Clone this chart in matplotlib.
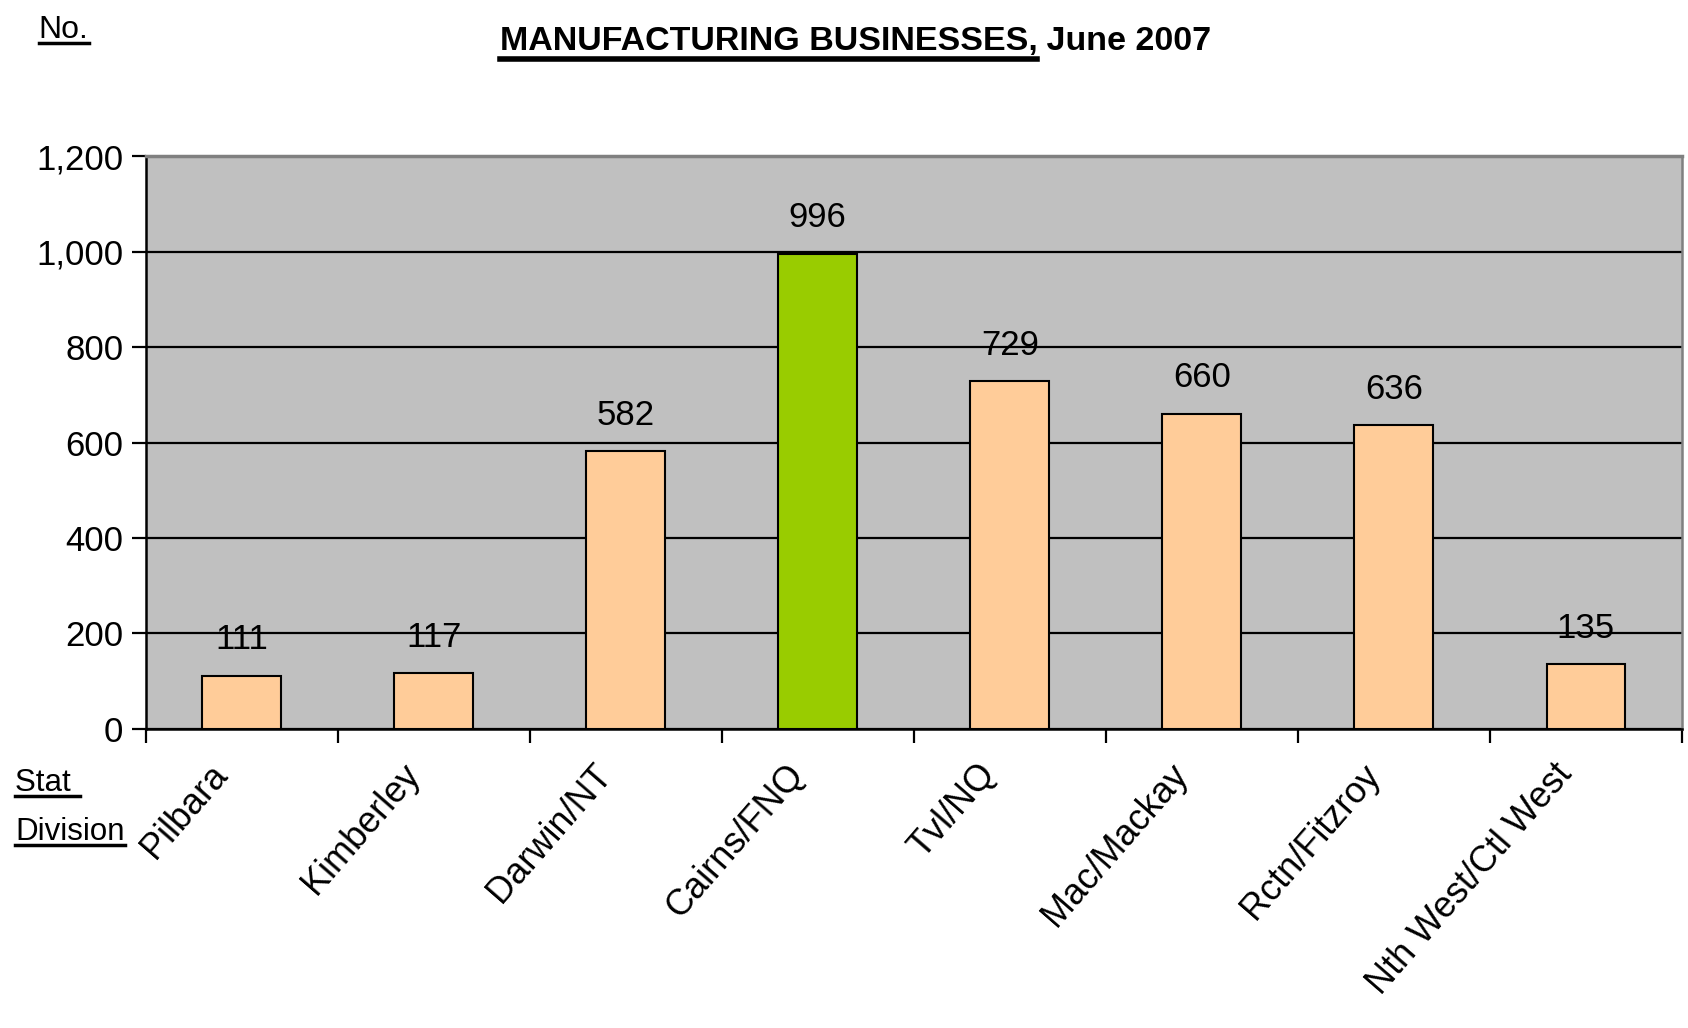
import numpy as np
import matplotlib
matplotlib.use("Agg")
import matplotlib.pyplot as plt
import matplotlib.transforms as mtransforms
from matplotlib.ticker import FuncFormatter

# chart data
divisions = ["Pilbara", "Kimberley", "Darwin/NT", "Cairns/FNQ", "Tvl/NQ",
             "Mac/Mackay", "Rctn/Fitzroy", "Nth West/Ctl West"]
businesses = [111, 117, 582, 996, 729, 660, 636, 135]
highlight = "Cairns/FNQ"
y_ticks = [0, 200, 400, 600, 800, 1000, 1200]

font = ["Liberation Sans", "DejaVu Sans"]
plt.rcParams["font.family"] = font

fig = plt.figure(figsize=(16.88, 10.28), dpi=100)
ax = fig.add_axes([0.0862, 0.291, 0.9102, 0.557])

x = np.arange(len(divisions))
colors = ["#99CC00" if d == highlight else "#FFCC99" for d in divisions]
ax.set_facecolor("#C0C0C0")
ax.bar(x, businesses, width=0.41, color=colors, edgecolor="black", linewidth=1.5, zorder=3)

for xi, v in zip(x, businesses):
    ax.annotate(str(v), (xi, v), xytext=(0, 14), textcoords="offset points",
                ha="center", va="bottom", fontsize=25, zorder=4)

ax.set_xlim(-0.5, len(divisions) - 0.5)
ax.set_ylim(0, 1200)
ax.set_yticks(y_ticks)
ax.yaxis.set_major_formatter(FuncFormatter(lambda v, p: f"{int(v):,}"))
ax.yaxis.grid(True, color="black", linewidth=1.6, zorder=1)
ax.set_axisbelow(True)

# ticks at category boundaries, labels drawn under the centres
ax.set_xticks(np.arange(len(divisions) + 1) - 0.5)
ax.set_xticklabels([])
ax.tick_params(axis="x", length=10, width=1.6, direction="out")
ax.tick_params(axis="y", length=10, width=1.6, direction="out", pad=6, labelsize=25)
lab_tr = ax.get_xaxis_transform() + mtransforms.ScaledTranslation(-0.20, -0.40, fig.dpi_scale_trans)
for xi, name in zip(x, divisions):
    ax.text(xi, 0, name, transform=lab_tr, rotation=49, rotation_mode="anchor",
            ha="right", va="center", fontsize=26, clip_on=False)

for s in ["left", "bottom"]:
    ax.spines[s].set_color("black")
    ax.spines[s].set_linewidth(1.8)
ax.spines["top"].set_color("#808080")
ax.spines["top"].set_linewidth(2.5)
ax.spines["right"].set_color("#808080")
ax.spines["right"].set_linewidth(1.8)
ax.spines["top"].set_zorder(5)


def underlined(x0, y0, text, lw=2.5, gap=0.006, **kw):
    t = fig.text(x0, y0, text, ha="left", va="baseline", **kw)
    fig.canvas.draw()
    bb = t.get_window_extent().transformed(fig.transFigure.inverted())
    fig.add_artist(plt.Line2D([bb.x0, bb.x1], [y0 - gap, y0 - gap], color="black",
                              linewidth=lw, transform=fig.transFigure))
    return bb


bb = underlined(0.296, 0.951, "MANUFACTURING BUSINESSES,", lw=4, gap=0.008,
                fontsize=24.5, fontweight="bold")
fig.text(bb.x1, 0.951, " June 2007", ha="left", va="baseline",
         fontsize=24.5, fontweight="bold")

underlined(0.023, 0.963, "No.", lw=2.5, gap=0.005, fontsize=23)
underlined(0.009, 0.231, "Stat ", lw=2.5, gap=0.005, fontsize=22.5)
underlined(0.009, 0.183, "Division", lw=2.5, gap=0.005, fontsize=22.5)

fig.savefig("out.png", dpi=100)
